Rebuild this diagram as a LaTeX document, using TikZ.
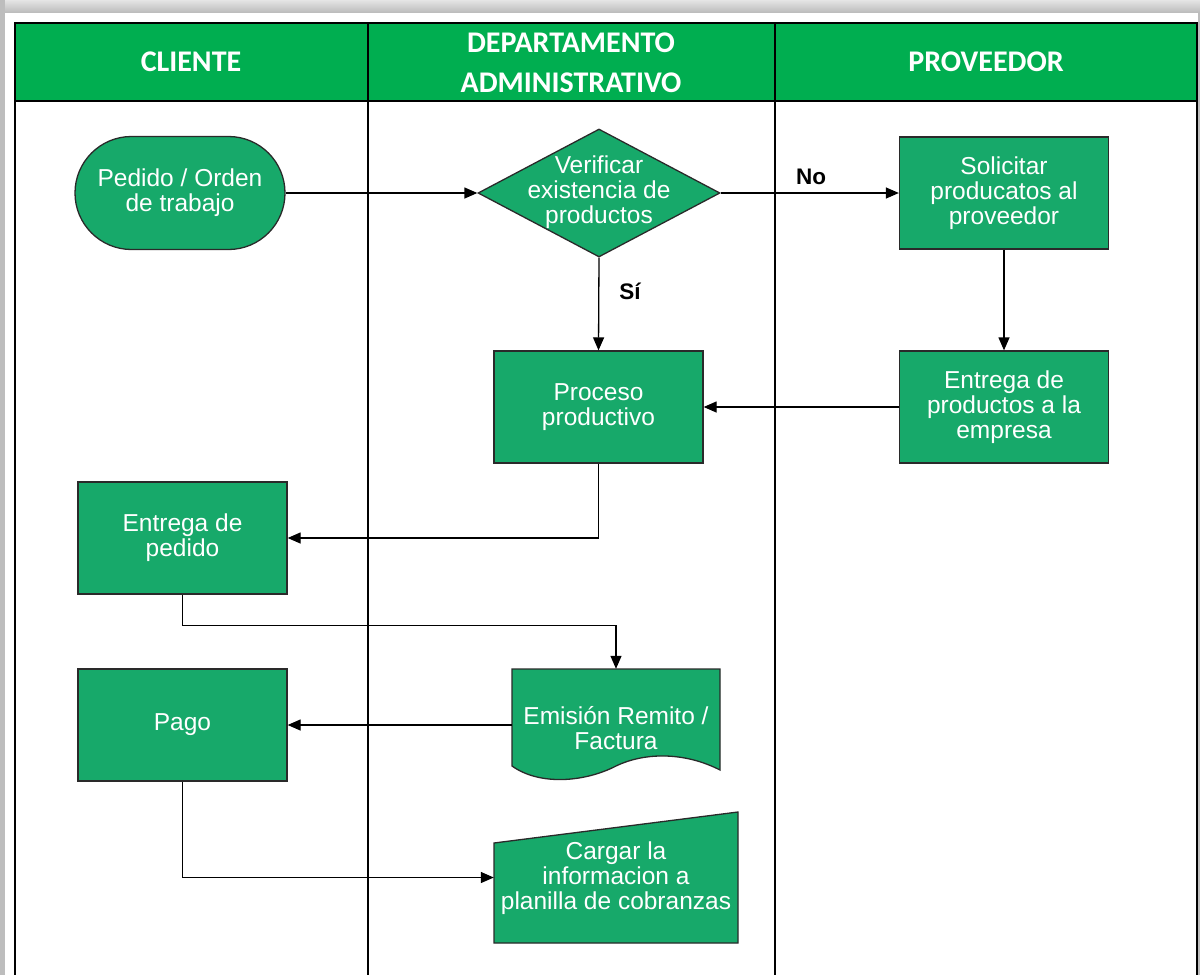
\documentclass[tikz,border=0pt]{standalone}
\usepackage{fontspec}
\setmainfont{Liberation Sans}
\newfontfamily\headfont{Carlito}
\usetikzlibrary{shapes.geometric,shapes.misc,arrows.meta}
\definecolor{headgreen}{HTML}{00AE50}
\definecolor{boxgreen}{HTML}{17A96A}
\definecolor{edgegray}{HTML}{2A2A2A}
\definecolor{framegray}{HTML}{BDBDBD}

\begin{document}
\begin{tikzpicture}[x=1pt,y=-1pt,
  lane/.style={line width=1.6pt, black},
  shapeline/.style={draw=edgegray, line width=1.3pt, fill=boxgreen},
  txt/.style={text=white, font=\fontsize{24.5}{25}\selectfont, align=center, inner sep=0pt},
  box/.style={shapeline, txt},
  proc/.style={box, rectangle, minimum width=209pt, minimum height=112pt},
  term/.style={box, rounded rectangle, minimum width=210pt, minimum height=113pt},
  decision/.style={shapeline, diamond, minimum width=242pt, minimum height=128pt, inner sep=0pt},
  anchorbox/.style={rectangle, draw=none, inner sep=0pt},
  flow/.style={line width=1.3pt, black, -{Triangle[length=13pt,width=11pt]}},
  lbl/.style={font=\bfseries\fontsize{22.5}{24}\selectfont, inner sep=0pt},
  head/.style={text=white, font=\headfont\bfseries\fontsize{30}{40}\selectfont, align=center, inner sep=0pt}
]
\useasboundingbox (0,0) rectangle (1200,975);

% window frame
\fill[white] (0,0) rectangle (1200,975);
\fill[top color=framegray!40, bottom color=framegray] (0,0) rectangle (1200,12);
\fill[framegray] (0,0) rectangle (5,975);
\fill[framegray] (1198,12) rectangle (1200,975);

% header band and swimlanes
\fill[headgreen] (15,23) rectangle (1197,101);
\draw[lane] (15,975) -- (15,23) -- (1197,23) -- (1197,975);
\draw[lane] (15,101) -- (1197,101);
\draw[lane] (368,23) -- (368,975);
\draw[lane] (775,23) -- (775,975);

\node[head] (hcli) at (191,62) {CLIENTE};
\node[head] (hdep) at (571,63) {DEPARTAMENTO\\ADMINISTRATIVO};
\node[head] (hprov) at (986,62) {PROVEEDOR};

% flow elements
\node[term] (pedido) at (180,193) {Pedido / Orden\\de trabajo};
\node[decision] (verif) at (599,193) {};
\node[txt] (veriftxt) at (599,192) {Verificar\\existencia de\\productos};
\node[proc] (solic) at (1004,193) {Solicitar\\producatos al\\proveedor};
\node[proc] (entprod) at (1004,407) {Entrega de\\productos a la\\empresa};
\node[proc] (proceso) at (598.5,407) {Proceso\\productivo};
\node[proc] (entped) at (182.5,538) {Entrega de\\pedido};
\node[proc] (pago) at (182.5,725) {Pago};

% document shape
\node[anchorbox, minimum width=208pt, minimum height=112pt] (emis) at (616,725) {};
\draw[shapeline] (512,669) -- (720,669) -- (720,770)
  .. controls (685,752) and (645,752) .. (616,766)
  .. controls (585,782) and (540,786) .. (512,766) -- cycle;
\node[txt] (emistxt) at (616,728) {Emisión Remito /\\Factura};

% manual input shape
\node[anchorbox, minimum width=244pt, minimum height=131pt] (carg) at (616,877.5) {};
\draw[shapeline] (494,843) -- (738,812) -- (738,943) -- (494,943) -- cycle;
\node[txt] (cargtxt) at (616,878) {Cargar la\\informacion a\\planilla de cobranzas};

% connectors
\draw[flow] (pedido.east) -- (verif.west);
\draw[flow] (verif.east) -- (solic.west);
\node[lbl] (lno) at (811,177) {No};
\draw[flow] (verif.south) -- (proceso.north);
\node[lbl] (lsi) at (630,291) {Sí};
\draw[flow] (solic.south) -- (entprod.north);
\draw[flow] (entprod.west) -- (proceso.east);
\draw[flow] (proceso.south) |- (entped.east);
\draw[flow] (entped.south) -- ++(0,31) -| (emis.north);
\draw[flow] (emis.west) -- (pago.east);
\draw[flow] (pago.south) |- (carg.west);
\end{tikzpicture}
\end{document}
